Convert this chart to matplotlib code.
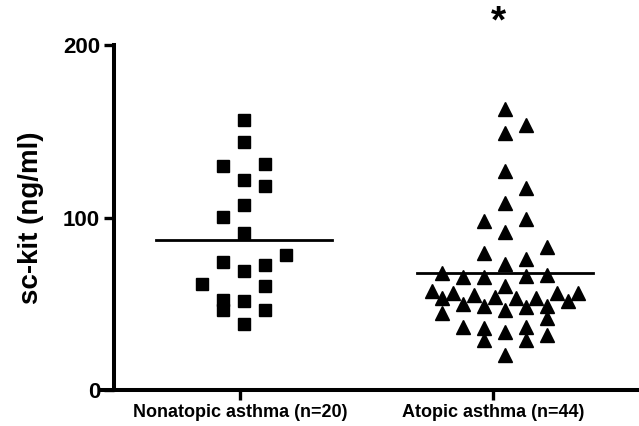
import numpy as np
import matplotlib.pyplot as plt

plt.rcParams['font.family'] = ['Liberation Sans', 'DejaVu Sans']
plt.rcParams['font.weight'] = 'bold'

groups = ["Nonatopic asthma (n=20)", "Atopic asthma (n=44)"]

# column offset (in columns of the scatter) and value, per point
nonatopic_col = [0, 0, -1, 1, 0, 1, 0, -1, 0, 2, -1, 1, 0, -2, 1, -1, -1, 0, 1, 0]
nonatopic = [156.5, 144, 130, 131, 122, 118, 107, 100.5, 91, 78, 74, 72.5, 69,
             61.4, 60.3, 52, 46.4, 51.6, 46.4, 38]

atopic_col = [0, 1, 0, 0, 1, 0, -1, 1, 0,
              -1, 2, 1, 0,
              -3, -2, -1, 1, 2,
              0, -3.5, -2.5, -3, -1.5, -0.5, 0.5, 1.5, 2.5, 3.5, 3,
              -2, -1, 0, 1, 2,
              -3, 2,
              -2, -1, 0, 1, 2,
              -1, 1, 0]
atopic = [162.7, 153.6, 148.8, 127, 117.3, 108.6, 98, 99.3, 91.8,
          79.6, 83, 75.7, 72.9,
          68, 65.7, 65.3, 66, 66.7,
          60.3, 57.6, 56.4, 53.5, 55, 53.7, 53.5, 53.5, 56.4, 56.4, 51.6,
          49.9, 48.7, 46.4, 48.3, 48.7,
          44.5, 41.5,
          36.7, 36.1, 33.8, 36.7, 31.9,
          29, 29, 20.3]
medians = [87, 67.6]

col_step = 0.08

fig = plt.figure(figsize=(6.39, 4.26), dpi=100)
ax = fig.add_axes([102 / 639, 36 / 426, 537 / 639, 345 / 426])

x_na = 1 + np.array(nonatopic_col) * col_step
x_a = 2 + np.array(atopic_col) * col_step
ax.plot(x_na, nonatopic, 's', color='black', ms=9.3, mec='black', clip_on=False)
ax.plot(x_a, atopic, '^', color='black', ms=10.5, mec='black', clip_on=False)

for i, m in enumerate(medians):
    ax.plot([i + 1 - 0.337, i + 1 + 0.337], [m, m], color='black', lw=2)

ax.text(1.975, 213, '*', fontsize=28, fontweight='bold', ha='center', va='center')

ax.set_xlim(0.456, 2.513)
ax.set_ylim(0, 200)
ax.spines['top'].set_visible(False)
ax.spines['right'].set_visible(False)
ax.spines['left'].set_position(('data', 0.502))
ax.spines['left'].set_linewidth(2.9)
ax.spines['bottom'].set_linewidth(2.9)

ax.set_yticks([0, 100, 200])
ax.set_yticklabels(['0', '100', '200'], fontsize=16, fontweight='bold')
ax.set_xticks([0.985, 1.955])
ax.set_xticklabels(groups, fontsize=13, fontweight='bold')
ax.tick_params(axis='both', length=7, width=2.4, direction='out', pad=3)
ax.set_ylabel('sc-kit (ng/ml)', fontsize=20, fontweight='bold', labelpad=14)

fig.savefig('out.png', dpi=100)
